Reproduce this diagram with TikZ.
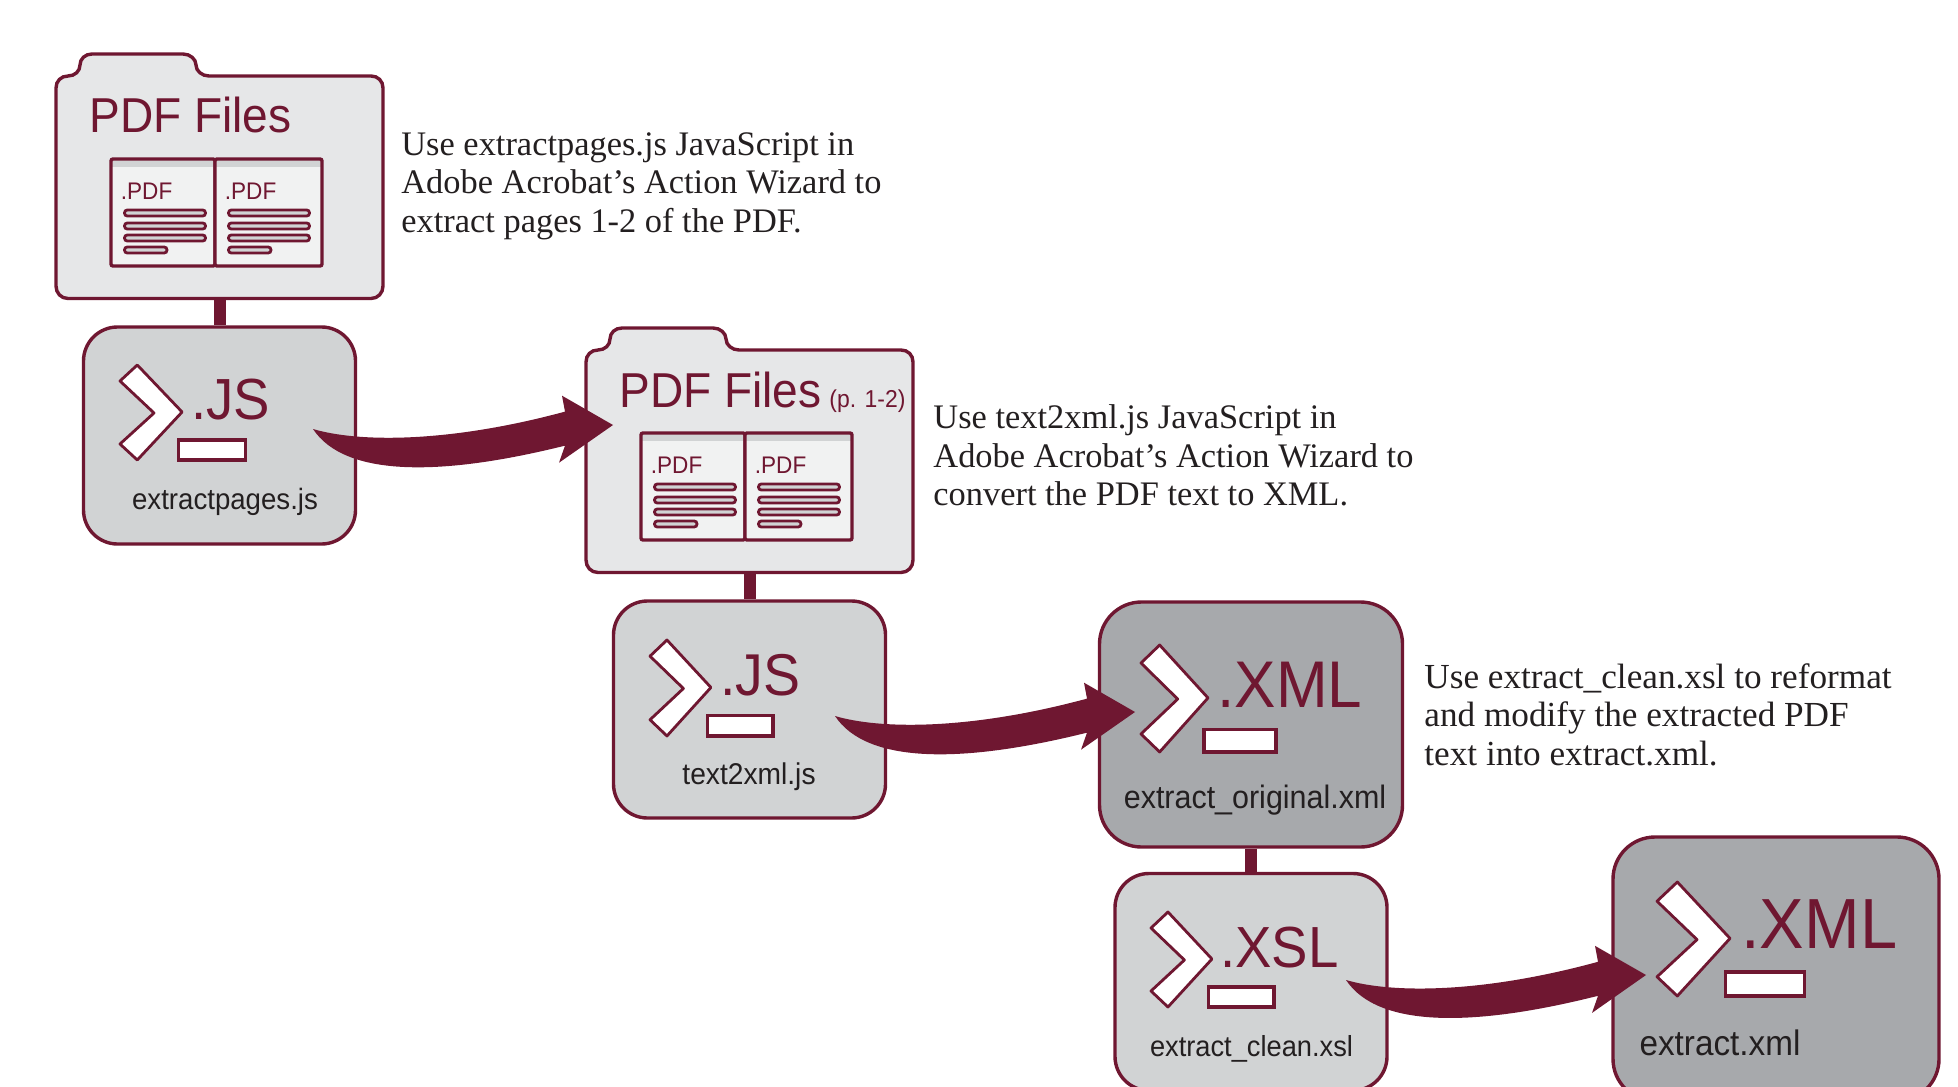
\documentclass[tikz,border=0pt]{standalone}
\usepackage{fontspec}
\setmainfont{Liberation Serif}
\setsansfont{Liberation Sans}[FakeStretch=0.94]
\usetikzlibrary{calc}
\definecolor{bordeaux}{HTML}{6F1731}
\definecolor{inktext}{HTML}{231F20}
\definecolor{foldergray}{HTML}{E6E7E8}
\definecolor{scriptgray}{HTML}{D1D3D4}
\definecolor{xmlgray}{HTML}{A7A9AC}
\definecolor{cardgray}{HTML}{F1F2F2}
\tikzset{
	% outlines
	outline/.style={draw=bordeaux, line width=1.7pt},
	scriptbox/.style={outline, fill=scriptgray, rounded corners=17pt, inner sep=0pt,
		minimum width=136pt, minimum height=108.5pt},
	xmlbox/.style={outline, fill=xmlgray, rounded corners=21pt, inner sep=0pt},
	stem/.style={bordeaux, line width=6pt},
	% texts
	titletext/.style={text=bordeaux, anchor=base west, inner sep=0pt, font=\sffamily\fontsize{24.5pt}{28pt}\selectfont},
	tagtext/.style={text=bordeaux, anchor=base west, inner sep=0pt, font=\sffamily\fontsize{12pt}{14pt}\selectfont},
	filetext/.style={text=inktext, anchor=base, inner sep=0pt, font=\sffamily\fontsize{14.7pt}{17pt}\selectfont},
	notetext/.style={text=inktext, anchor=north west, inner sep=0pt, align=left,
		font=\rmfamily\fontsize{17.2pt}{19.3pt}\selectfont}
}
% folder outline, drawn at the place of the first one
\newcommand{\pdffolder}[3]{
	\begin{scope}[shift={(#2,#3)}]
		\draw [outline, fill=foldergray] (56,88) .. controls (56,81) and (61,76) .. (68,76)
		.. controls (75,76) and (80,71) .. (80,65) .. controls (80,59) and (85,54) .. (92,54)
		-- (183,54) .. controls (190,54) and (196,59) .. (196,65)
		.. controls (196,71) and (202,76) .. (209,76) -- (371,76)
		.. controls (378,76) and (383,81) .. (383,88) -- (383,286)
		.. controls (383,293) and (378,298.5) .. (371,298.5) -- (68,298.5)
		.. controls (61,298.5) and (56,293) .. (56,286) -- cycle;
		\node [minimum width=164.5pt, minimum height=111.5pt, inner sep=0pt] (#1) at (219.5,187) {};
		\foreach \cardx/\cardw in {0/104,104/107} {
			\begin{scope}[shift={(\cardx,0)}]
				\fill [scriptgray] (111,159) rectangle (111+\cardw,167);
				\fill [cardgray] (111,167) rectangle (111+\cardw,266);
				\draw [outline, rounded corners=1pt] (111,159) rectangle (111+\cardw,266);
				\node [tagtext] (#1tag\cardx) at (120.5,199) {.PDF};
				\foreach \rowy/\rowend in {213/205.5, 226/205.5, 238/205.5, 250/167} {
					\draw [draw=bordeaux, line width=1.4pt, fill=scriptgray, rounded corners=1.4pt]
					(124.5,\rowy-3) rectangle (\rowend,\rowy+3);
				}
			\end{scope}
		}
	\end{scope}
}
% prompt sign: x, y, xscale, yscale
\newcommand{\promptmark}[4]{
	\begin{scope}[shift={(#1,#2)}, xscale=#3, yscale=#4]
		\draw [outline, fill=white, line join=round, line width=1.4pt] (16,0) -- (57.5,47) -- (16,95)
		-- (0,79) -- (31.5,48) -- (0,16) -- cycle;
		\draw [outline, fill=white] (54,75) rectangle (116,95);
	\end{scope}
}
% thick curved arrow between two coordinates
\newcommand{\swoosh}[2]{
	\fill [bordeaux] (#1) .. controls ($(#1)!.15!(#2)+(0,14)$) and ($(#1)!.45!(#2)+(0,16)$)
	.. ($(#1)!.84!(#2)+(0,-14)$) -- ($(#1)!.83!(#2)+(0,-30)$) -- (#2)
	-- ($(#1)!.82!(#2)+(0,37)$) -- ($(#1)!.84!(#2)+(0,20)$)
	.. controls ($(#1)!.43!(#2)+(0,49)$) and ($(#1)!.107!(#2)+(0,49)$) .. (#1) -- cycle;
}
\begin{document}
\begin{tikzpicture}[x=0.5pt, y=-0.5pt]
	\useasboundingbox (0,0) rectangle (1958,1086);
	\clip (0,0) rectangle (1958,1086);

	%% folders
	\pdffolder{folderA}{0}{0}
	\pdffolder{folderB}{530}{274}
	\node [titletext] (titleA) at (89,133) {PDF Files};
	\node [titletext] (titleB) at (619,407) {PDF Files};
	\node [titletext, font=\sffamily\fontsize{12.2pt}{15pt}\selectfont] (pagesB) at (829,407) {(p. 1-2)};

	%% script boxes
	\node [scriptbox] (scriptA) at (219.5,435.5) {};
	\node [scriptbox] (scriptB) at (749.5,709.5) {};
	\node [scriptbox] (scriptC) at (1251,982) {};
	\node [xmlbox, minimum width=151.5pt, minimum height=122.5pt] (xmlA) at (1251,724.5) {};
	\node [xmlbox, minimum width=163pt, minimum height=132pt] (xmlB) at (1776,969) {};

	%% stems
	\draw [stem] (folderA) -- (scriptA);
	\draw [stem] (folderB) -- (scriptB);
	\draw [stem] (xmlA) -- (scriptC);

	%% prompts
	\promptmark{120}{365}{1.08}{1}
	\promptmark{650}{640}{1.06}{1.01}
	\promptmark{1141}{645}{1.165}{1.126}
	\promptmark{1151}{912}{1.06}{1}
	\promptmark{1657}{882}{1.27}{1.2}

	%% extensions
	\node [titletext, font=\sffamily\fontsize{29pt}{30pt}\selectfont] (extA) at (191,419) {.JS};
	\node [titletext, font=\sffamily\fontsize{29.5pt}{30pt}\selectfont] (extB) at (720,695) {.JS};
	\node [titletext, font=\sffamily\fontsize{33pt}{34pt}\selectfont] (extC) at (1217,707) {.XML};
	\node [titletext, font=\sffamily\fontsize{29pt}{30pt}\selectfont] (extD) at (1220,967) {.XSL};
	\node [titletext, font=\sffamily\fontsize{35.5pt}{34pt}\selectfont] (extE) at (1741,948) {.XML};

	%% file names
	\node [filetext] (fileA) at (225,509) {extractpages.js};
	\node [filetext, font=\sffamily\fontsize{15pt}{17pt}\selectfont] (fileB) at (749,784) {text2xml.js};
	\node [filetext, font=\sffamily\fontsize{16.2pt}{18pt}\selectfont] (fileC) at (1255,808) {extract\_original.xml};
	\node [filetext, font=\sffamily\fontsize{14.5pt}{17pt}\selectfont] (fileD) at (1251.5,1056) {extract\_clean.xsl};
	\node [filetext, font=\sffamily\fontsize{17.7pt}{20pt}\selectfont] (fileE) at (1720,1055) {extract.xml};

	%% notes
	\node [notetext] (noteA) at (401,132) {Use extractpages.js JavaScript in\\Adobe Acrobat’s Action Wizard to\\extract pages 1-2 of the PDF.};
	\node [notetext] (noteB) at (933,404.5) {Use text2xml.js JavaScript in\\Adobe Acrobat’s Action Wizard to\\convert the PDF text to XML.};
	\node [notetext, font=\rmfamily\fontsize{17.6pt}{19.3pt}\selectfont] (noteC) at (1424,663) {Use extract\_clean.xsl to reformat\\and modify the extracted PDF\\text into extract.xml.};

	%% arrows
	\coordinate (tailA) at (313,429);
	\coordinate (tipA) at (613,425);
	\coordinate (tailB) at (835,716);
	\coordinate (tipB) at (1135,712);
	\coordinate (tailC) at (1346,980);
	\coordinate (tipC) at (1646,975);
	\swoosh{tailA}{tipA}
	\swoosh{tailB}{tipB}
	\swoosh{tailC}{tipC}
\end{tikzpicture}
\end{document}
